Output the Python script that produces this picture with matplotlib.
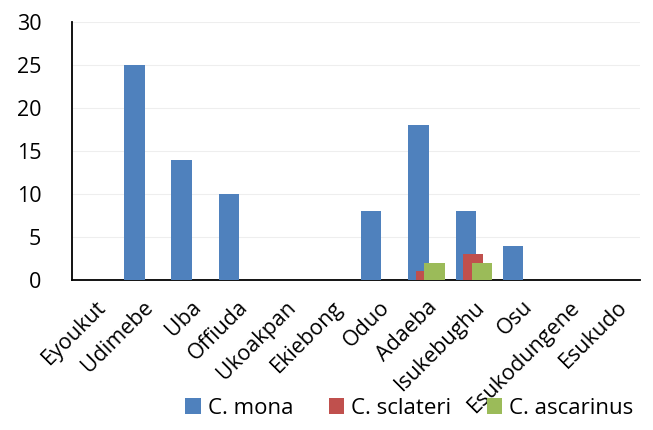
import matplotlib.pyplot as plt
import numpy as np

sites = ['Eyoukut', 'Udimebe', 'Uba', 'Offiuda', 'Ukoakpan', 'Ekiebong', 'Oduo',
         'Adaeba', 'Isukebughu', 'Osu', 'Esukodungene', 'Esukudo']
c_mona = [0, 25, 14, 10, 0, 0, 8, 18, 8, 4, 0, 0]
c_sclateri = [0, 0, 0, 0, 0, 0, 0, 1, 3, 0, 0, 0]
c_ascarinus = [0, 0, 0, 0, 0, 0, 0, 2, 2, 0, 0, 0]

series = [('C. mona', c_mona, '#4f81bd'),
          ('C. sclateri', c_sclateri, '#c0504d'),
          ('C. ascarinus', c_ascarinus, '#9bbb59')]
offsets = [-0.18, -0.02, 0.16]

plt.rcParams['font.family'] = ['Open Sans', 'DejaVu Sans']

fig = plt.figure(figsize=(6.53, 4.30), dpi=100)
ax = fig.add_axes([0.110, 0.349, 0.870, 0.600])

x = np.arange(len(sites))
for (label, vals, color), off in zip(series, offsets):
    ax.bar(x + off, vals, width=0.43, color=color, label=label, zorder=3)

ax.set_xlim(-0.5, len(sites) - 0.5)
ax.set_ylim(0, 30)
ax.set_yticks(range(0, 31, 5))
ax.yaxis.grid(True, color='#eeeeee', linewidth=0.8, zorder=0)
ax.set_xticks(x)
ax.set_xticklabels(sites, rotation=45, ha='right', rotation_mode='anchor')
ax.tick_params(axis='both', length=0, labelsize=15.5)
ax.tick_params(axis='x', pad=12)
ax.tick_params(axis='y', pad=22)
for s in ['top', 'right']:
    ax.spines[s].set_visible(False)
for s in ['left', 'bottom']:
    ax.spines[s].set_color('black')
    ax.spines[s].set_linewidth(1.3)

fig.legend(loc='lower right', bbox_to_anchor=(1.0, -0.02), ncol=3, frameon=False,
           fontsize=16, handlelength=0.7, handleheight=0.7, handletextpad=0.3,
           columnspacing=1.6)

fig.savefig('out.png', dpi=100)
